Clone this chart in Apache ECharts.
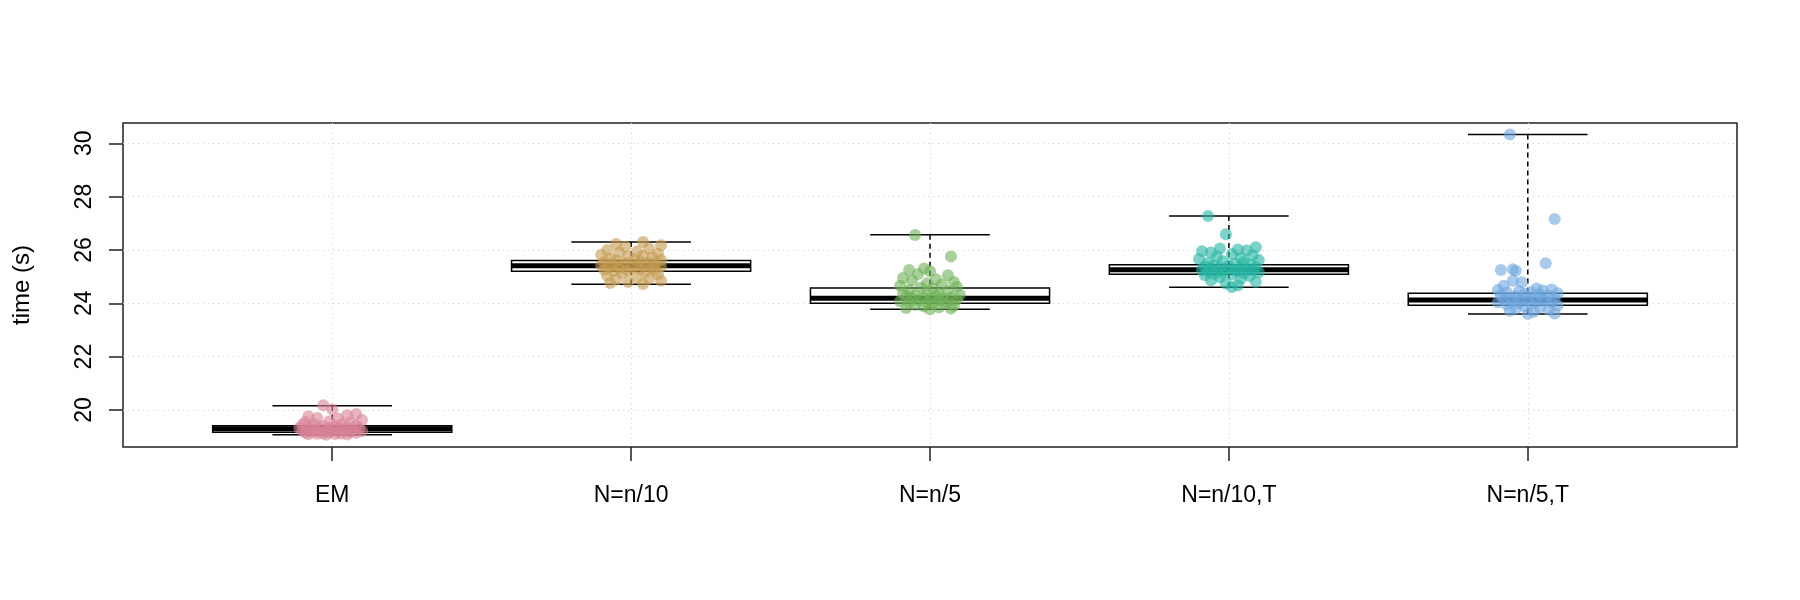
<!DOCTYPE html>
<html>
<head>
<meta charset="utf-8">
<script src="https://cdn.jsdelivr.net/npm/echarts@6/dist/echarts.min.js"></script>
<style>
  html, body { margin: 0; padding: 0; background: #fff; }
  #chart { width: 1800px; height: 600px; }
</style>
</head>
<body>
<div id="chart"></div>
<script>
// categories and box statistics
const categories = ['EM', 'N=n/10', 'N=n/5', 'N=n/10,T', 'N=n/5,T']
const whiskerLow = [19.07, 24.71, 23.78, 24.60, 23.60]
const q1 = [19.16, 25.20, 24.00, 25.09, 23.93]
const median = [19.29, 25.41, 24.19, 25.26, 24.12]
const q3 = [19.41, 25.60, 24.57, 25.44, 24.38]
const whiskerHigh = [20.16, 26.30, 26.57, 27.27, 30.33]
const yTicks = [20, 22, 24, 26, 28, 30]
const xTicks = [1, 2, 3, 4, 5]

// jittered points [x, time]
const pointsEM = [[0.97, 20.18], [1.00, 20.02], [1.08, 19.85], [1.05, 19.80], [0.92, 19.76], [0.95, 19.70], [1.02, 19.68], [1.10, 19.62], [0.99, 19.58], [0.91, 19.55], [1.06, 19.52], [0.94, 19.48], [1.03, 19.46], [0.90, 19.44], [1.08, 19.42], [0.97, 19.40], [1.01, 19.38], [0.93, 19.36], [1.05, 19.35], [0.99, 19.33], [0.89, 19.32], [1.09, 19.31], [0.96, 19.30], [1.03, 19.29], [0.92, 19.28], [1.07, 19.27], [1.00, 19.26], [0.94, 19.25], [1.04, 19.24], [0.98, 19.23], [0.90, 19.22], [1.10, 19.21], [0.95, 19.20], [1.02, 19.19], [0.93, 19.18], [1.06, 19.17], [0.99, 19.16], [0.91, 19.15], [1.08, 19.14], [0.97, 19.13], [1.03, 19.12], [0.95, 19.11], [1.01, 19.10], [0.92, 19.09], [1.05, 19.08], [0.98, 19.07]]
const pointsN10 = [[2.04, 26.30], [1.95, 26.22], [2.10, 26.18], [1.98, 26.12], [2.06, 26.05], [1.92, 26.00], [2.02, 25.95], [1.96, 25.90], [2.09, 25.86], [1.90, 25.82], [2.04, 25.78], [1.99, 25.75], [2.07, 25.72], [1.93, 25.68], [2.01, 25.65], [2.10, 25.62], [1.95, 25.60], [2.03, 25.57], [1.91, 25.55], [2.06, 25.52], [1.98, 25.50], [2.08, 25.47], [1.94, 25.45], [2.02, 25.43], [1.90, 25.42], [2.05, 25.41], [1.97, 25.40], [2.10, 25.38], [1.93, 25.36], [2.00, 25.34], [2.07, 25.32], [1.96, 25.30], [2.03, 25.28], [1.91, 25.26], [2.08, 25.24], [1.99, 25.22], [1.94, 25.20], [2.05, 25.17], [1.97, 25.13], [2.09, 25.08], [1.92, 25.03], [2.02, 24.98], [2.06, 24.92], [1.95, 24.88], [2.10, 24.84], [1.99, 24.80], [1.93, 24.76], [2.04, 24.72]]
const pointsN5 = [[2.95, 26.56], [3.07, 25.75], [2.98, 25.30], [2.93, 25.25], [3.00, 25.20], [2.96, 25.10], [3.06, 25.05], [2.91, 24.95], [3.02, 24.90], [2.94, 24.85], [3.08, 24.80], [2.99, 24.75], [3.04, 24.70], [2.90, 24.66], [3.09, 24.62], [2.97, 24.58], [3.01, 24.55], [2.93, 24.50], [3.06, 24.46], [2.99, 24.42], [2.91, 24.38], [3.03, 24.35], [3.10, 24.32], [2.95, 24.29], [3.02, 24.26], [2.92, 24.24], [3.07, 24.22], [2.98, 24.20], [3.04, 24.19], [2.94, 24.18], [3.00, 24.16], [3.09, 24.14], [2.96, 24.12], [3.03, 24.10], [2.90, 24.08], [3.06, 24.06], [2.99, 24.04], [2.93, 24.02], [3.05, 24.00], [3.01, 23.97], [2.95, 23.94], [3.08, 23.91], [2.98, 23.88], [3.03, 23.85], [2.92, 23.82], [3.07, 23.80], [3.00, 23.78]]
const pointsN10T = [[3.93, 27.27], [3.99, 26.59], [4.09, 26.10], [3.97, 26.05], [4.03, 26.02], [4.06, 25.98], [3.91, 25.95], [3.94, 25.90], [4.01, 25.85], [4.08, 25.80], [3.96, 25.75], [4.04, 25.70], [3.90, 25.66], [4.10, 25.62], [3.98, 25.58], [4.05, 25.55], [3.93, 25.52], [4.02, 25.48], [4.07, 25.45], [3.95, 25.43], [4.00, 25.40], [3.92, 25.38], [4.09, 25.36], [3.97, 25.34], [4.04, 25.32], [3.94, 25.30], [4.06, 25.28], [3.99, 25.27], [4.02, 25.26], [3.91, 25.25], [4.08, 25.24], [3.96, 25.22], [4.03, 25.20], [3.93, 25.18], [4.10, 25.16], [3.98, 25.14], [4.05, 25.12], [3.95, 25.10], [4.01, 25.08], [3.92, 25.05], [4.07, 25.02], [3.97, 24.98], [4.04, 24.92], [3.94, 24.86], [4.09, 24.80], [3.99, 24.74], [4.03, 24.68], [4.01, 24.61]]
const pointsN5T = [[4.94, 30.33], [5.09, 27.16], [5.06, 25.50], [4.91, 25.25], [4.95, 25.28], [4.96, 25.22], [4.95, 24.84], [4.98, 24.79], [4.92, 24.66], [5.03, 24.55], [5.08, 24.52], [4.90, 24.50], [5.05, 24.48], [4.97, 24.45], [5.01, 24.42], [4.93, 24.40], [5.10, 24.38], [4.99, 24.36], [5.04, 24.33], [4.91, 24.30], [5.07, 24.28], [4.96, 24.25], [5.02, 24.22], [4.94, 24.20], [5.09, 24.18], [4.98, 24.16], [5.05, 24.14], [4.92, 24.12], [5.00, 24.11], [5.06, 24.10], [4.95, 24.08], [5.03, 24.06], [4.90, 24.04], [5.08, 24.02], [4.97, 24.00], [5.01, 23.97], [4.93, 23.94], [5.10, 23.92], [4.99, 23.88], [5.04, 23.84], [4.96, 23.80], [5.07, 23.76], [4.94, 23.72], [5.02, 23.68], [5.09, 23.62], [5.00, 23.60]]

const pointGroups = [pointsEM, pointsN10, pointsN5, pointsN10T, pointsN5T]
const colors = ['#D98296', '#C59B50', '#6EB157', '#26B6A3', '#6EA7DF']

const boxData = categories.map((c, i) => [i + 1, whiskerLow[i], q1[i], median[i], q3[i], whiskerHigh[i]])

function renderBox(params, api) {
  const x = api.value(0)
  const lo = api.value(1)
  const b1 = api.value(2)
  const md = api.value(3)
  const b3 = api.value(4)
  const hi = api.value(5)
  const tl = api.coord([x - 0.4, b3])
  const br = api.coord([x + 0.4, b1])
  const mL = api.coord([x - 0.4, md])
  const mR = api.coord([x + 0.4, md])
  const pHi = api.coord([x, hi])
  const pB3 = api.coord([x, b3])
  const pLo = api.coord([x, lo])
  const pB1 = api.coord([x, b1])
  const sHiL = api.coord([x - 0.2, hi])
  const sHiR = api.coord([x + 0.2, hi])
  const sLoL = api.coord([x - 0.2, lo])
  const sLoR = api.coord([x + 0.2, lo])
  const lineStyle = { stroke: '#000', lineWidth: 1.5, fill: null }
  const dashStyle = { stroke: '#000', lineWidth: 1.5, lineDash: [5, 4], fill: null }
  return {
    type: 'group',
    children: [
      { type: 'line', shape: { x1: pHi[0], y1: pHi[1], x2: pB3[0], y2: pB3[1] }, style: dashStyle },
      { type: 'line', shape: { x1: pLo[0], y1: pLo[1], x2: pB1[0], y2: pB1[1] }, style: dashStyle },
      { type: 'line', shape: { x1: sHiL[0], y1: sHiL[1], x2: sHiR[0], y2: sHiR[1] }, style: lineStyle },
      { type: 'line', shape: { x1: sLoL[0], y1: sLoL[1], x2: sLoR[0], y2: sLoR[1] }, style: lineStyle },
      { type: 'rect', shape: { x: tl[0], y: tl[1], width: br[0] - tl[0], height: br[1] - tl[1] }, style: { fill: '#fff', stroke: '#000', lineWidth: 1.5 } },
      { type: 'line', shape: { x1: mL[0], y1: mL[1], x2: mR[0], y2: mR[1] }, style: { stroke: '#000', lineWidth: 5 } }
    ]
  }
}

const chart = echarts.init(document.getElementById('chart'))

const series = [{
  type: 'custom',
  renderItem: renderBox,
  data: boxData,
  encode: { x: 0, y: [1, 2, 3, 4, 5] },
  z: 2,
  silent: true
}]
pointGroups.forEach((pts, i) => {
  series.push({
    name: categories[i],
    type: 'scatter',
    data: pts,
    symbol: 'circle',
    symbolSize: 12,
    itemStyle: { color: colors[i], opacity: 0.6 },
    z: 3,
    silent: true
  })
})

chart.setOption({
  animation: false,
  textStyle: { fontFamily: 'Liberation Sans, Arial, sans-serif' },
  grid: {
    left: 123,
    right: 63,
    top: 123,
    bottom: 153,
    show: true,
    borderColor: '#222',
    borderWidth: 1.5,
    backgroundColor: 'transparent'
  },
  xAxis: {
    type: 'value',
    min: 0.3,
    max: 5.7,
    axisLine: { show: false },
    axisTick: { show: true, length: 14, inside: false, customValues: xTicks, lineStyle: { color: '#222', width: 1.5 } },
    axisLabel: {
      customValues: xTicks,
      margin: 37,
      fontSize: 23,
      color: '#000',
      formatter: v => categories[Math.round(v) - 1]
    },
    splitLine: { show: true, lineStyle: { color: '#d3d3d3', type: [1, 4], width: 1 } }
  },
  yAxis: {
    type: 'value',
    min: 18.61,
    max: 30.76,
    name: 'time (s)',
    nameLocation: 'middle',
    nameGap: 89,
    nameRotate: 90,
    nameTextStyle: { fontSize: 24, color: '#000' },
    axisLine: { show: false },
    axisTick: { show: true, length: 14, inside: false, customValues: yTicks, lineStyle: { color: '#222', width: 1.5 } },
    axisLabel: {
      customValues: yTicks,
      rotate: 90,
      margin: 27,
      fontSize: 23,
      color: '#000'
    },
    splitLine: { show: true, lineStyle: { color: '#d3d3d3', type: [1, 4], width: 1 } }
  },
  series: series
})
</script>
</body>
</html>
